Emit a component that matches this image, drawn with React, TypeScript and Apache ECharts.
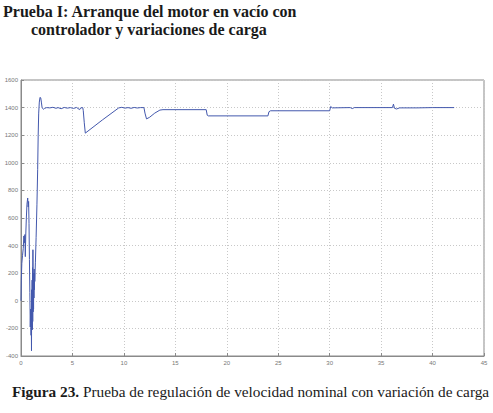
import React, { useEffect, useRef } from "react";
import * as echarts from "echarts";

const titleLine1 = "Prueba I: Arranque del motor en vacío con";
const titleLine2 = "controlador y variaciones de carga";
const captionBold = "Figura 23.";
const captionText = " Prueba de regulación de velocidad nominal con variación de carga";

const xTicks = [0, 5, 10, 15, 20, 25, 30, 35, 40, 45];
const yTicks = [-400, -200, 0, 200, 400, 600, 800, 1000, 1200, 1400, 1600];

const time = [
  0.0, 0.03, 0.08, 0.15, 0.22, 0.28, 0.33, 0.38, 0.42, 0.46, 0.52, 0.58, 0.65, 0.7, 0.74, 0.78,
  0.82, 0.86, 0.9, 0.94, 0.98, 1.0, 1.02, 1.04, 1.06, 1.08, 1.1, 1.12, 1.14, 1.16, 1.18, 1.2,
  1.22, 1.24, 1.26, 1.28, 1.3, 1.32, 1.34,
  1.4, 1.47, 1.55, 1.62, 1.67, 1.72, 1.78, 1.85, 1.92, 1.98, 2.05, 2.12, 2.2, 2.3, 2.5,
  2.8, 3.1, 3.4, 3.6, 3.9, 4.2, 4.5, 4.8, 5.1, 5.4, 5.7, 5.8, 6.0,
  6.05, 6.15, 6.25, 7.9, 9.5,
  9.8, 10.1, 10.4, 10.7, 11.0, 11.3, 11.6, 11.95, 12.05, 12.2, 12.5, 13.0, 13.5, 13.8,
  18.0, 18.1, 18.2, 24.0, 24.1, 24.25, 30.0, 30.1, 30.25, 32.0, 32.2, 32.4,
  36.1, 36.2, 36.3, 36.5, 36.8, 38.5, 40.0, 42.1,
];

const speed = [
  0, 150, 270, 330, 380, 470, 420, 480, 320, 470, 600, 700, 745, 680, 720, 560,
  300, 60, -190, -60, -250, -120, -362, 80, -200, 150, -210, 240, -150, 370, -80, 200,
  -60, 180, 20, 230, 80, 200, 140,
  280, 460, 700, 950, 1200, 1360, 1440, 1475, 1470, 1440, 1400, 1392, 1388, 1395, 1400,
  1398, 1402, 1395, 1400, 1392, 1401, 1396, 1400, 1394, 1401, 1385, 1398, 1400,
  1380, 1290, 1215, 1310, 1398,
  1402, 1396, 1400, 1395, 1401, 1397, 1400, 1400, 1360, 1318, 1330, 1360, 1382, 1385,
  1385, 1345, 1340, 1340, 1370, 1377, 1377, 1408, 1398, 1400, 1393, 1400,
  1400, 1425, 1395, 1390, 1398, 1398, 1400, 1400,
];

const serif = "'Liberation Serif', 'DejaVu Serif', serif";

export default function App() {
  const ref = useRef<HTMLDivElement>(null);
  useEffect(() => {
    if (!ref.current) return;
    const chart = echarts.init(ref.current, null, { renderer: "svg" });
    const data = time.map((t, i) => [t, speed[i]]);
    chart.setOption({
      animation: false,
      backgroundColor: "#ffffff",
      grid: {
        left: 21,
        right: 9,
        top: 80,
        bottom: 57,
        show: true,
        borderColor: "#8a8a8a",
        borderWidth: 1,
        backgroundColor: "transparent",
      },
      xAxis: {
        type: "value",
        min: xTicks[0],
        max: xTicks[xTicks.length - 1],
        interval: 5,
        axisLine: { show: true, onZero: false, lineStyle: { color: "#8a8a8a", width: 1 } },
        axisTick: { show: true, inside: true, length: 3, lineStyle: { color: "#8a8a8a" } },
        axisLabel: {
          color: "#777",
          fontSize: 6,
          fontFamily: "Arial, sans-serif",
          margin: 4,
          formatter: (v: number) => String(v),
        },
        splitLine: { show: true, lineStyle: { color: "#c8c8c8", type: [1, 2], width: 1 } },
      },
      yAxis: {
        type: "value",
        min: yTicks[0],
        max: yTicks[yTicks.length - 1],
        interval: 200,
        axisLine: { show: true, lineStyle: { color: "#8a8a8a", width: 1 } },
        axisTick: { show: true, inside: true, length: 3, lineStyle: { color: "#8a8a8a" } },
        axisLabel: {
          color: "#777",
          fontSize: 6,
          fontFamily: "Arial, sans-serif",
          margin: 3,
          formatter: (v: number) => String(v),
        },
        splitLine: { show: true, lineStyle: { color: "#c8c8c8", type: [1, 2], width: 1 } },
      },
      series: [
        {
          type: "line",
          data,
          showSymbol: false,
          symbol: "none",
          lineStyle: { color: "#4358ad", width: 1 },
        },
      ],
      graphic: [
        {
          type: "text",
          left: 3,
          top: 3,
          style: { text: titleLine1, font: `bold 16px ${serif}`, fill: "#1a1a1a" },
        },
        {
          type: "text",
          left: 31,
          top: 21,
          style: { text: titleLine2, font: `bold 16px ${serif}`, fill: "#1a1a1a" },
        },
        {
          type: "text",
          left: 12,
          top: 384,
          style: {
            text: `{b|${captionBold}}{r|${captionText}}`,
            rich: {
              b: { font: `bold 15.3px ${serif}`, fill: "#1a1a1a" },
              r: { font: `15.3px ${serif}`, fill: "#1a1a1a" },
            },
          },
        },
      ],
    });
    return () => chart.dispose();
  }, []);
  return (
    <div
      ref={ref}
      style={{ position: "fixed", left: 0, top: 0, width: 493, height: 413 }}
    />
  );
}
